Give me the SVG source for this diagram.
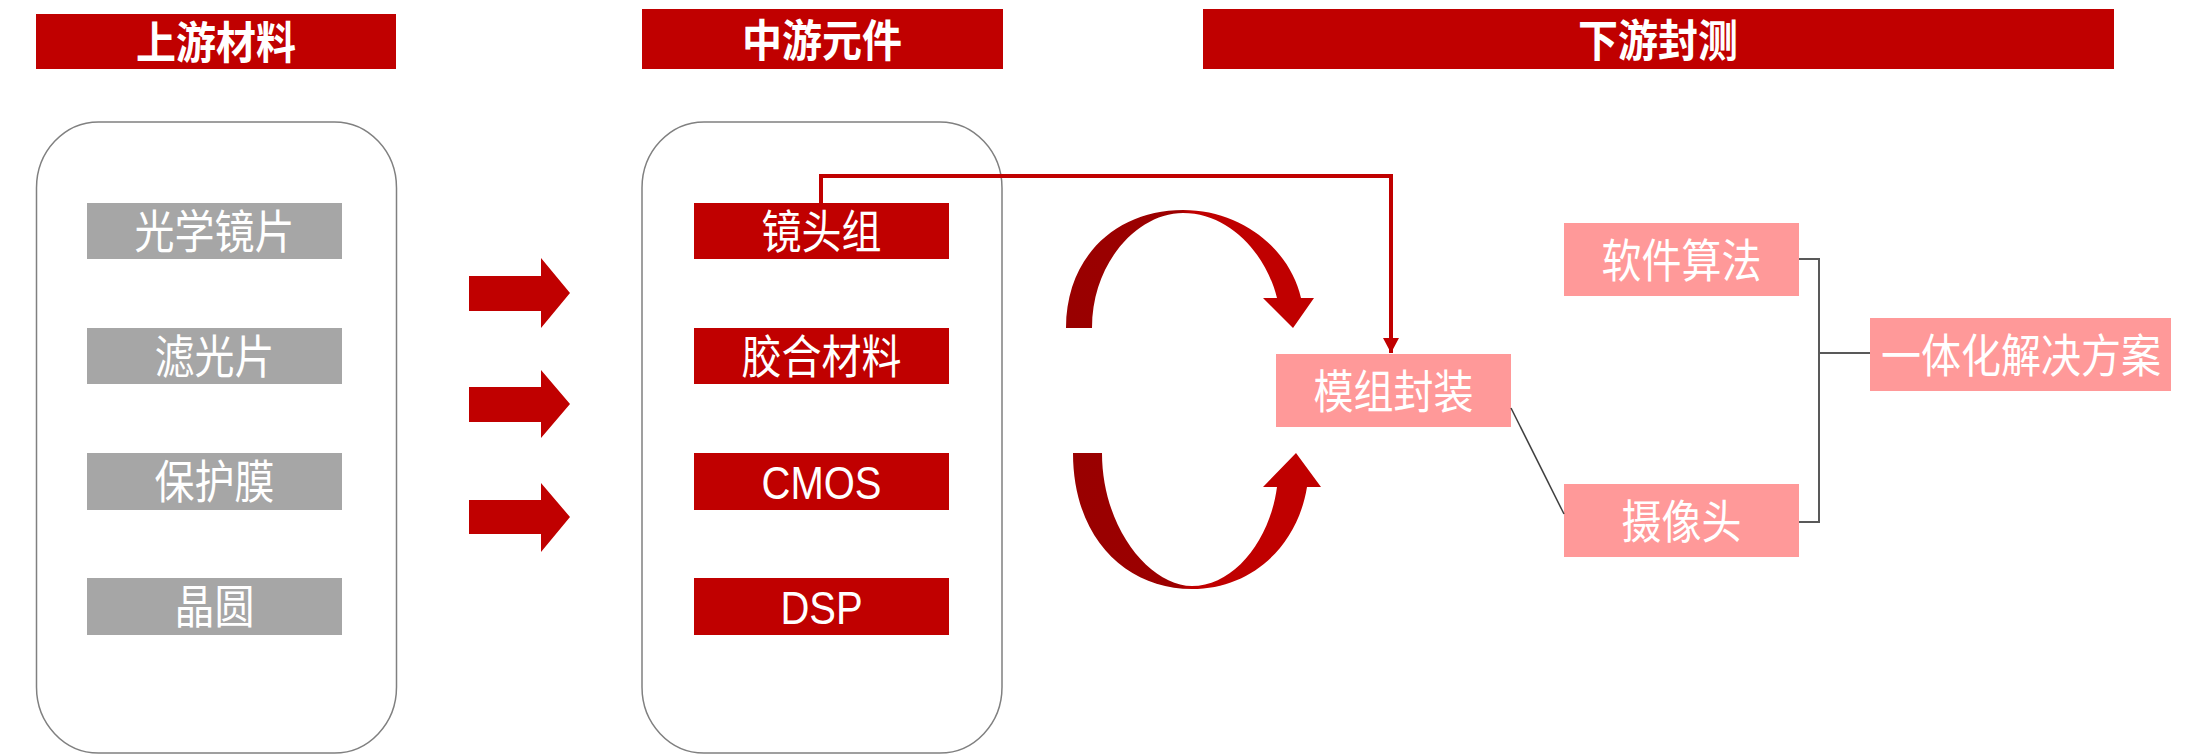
<svg xmlns="http://www.w3.org/2000/svg" width="2203" height="755" viewBox="0 0 2203 755">
<style>
.hdr{fill:#c00000}
.hdrt{font-family:"Noto Sans CJK SC",sans-serif;font-weight:bold;font-size:40px;fill:#fff;text-anchor:middle}
.col{fill:#fff;stroke:#808080;stroke-width:1.5}
.gray{fill:#a6a6a6}
.red{fill:#c00000}
.pink{fill:#ff9999}
.t{font-family:"Noto Sans CJK SC",sans-serif;font-size:40px;fill:#fff;text-anchor:middle}
.lt{font-family:"Liberation Sans","Noto Sans CJK SC",sans-serif;font-size:40px;fill:#fff;text-anchor:middle}
.blk{fill:#c00000}
.thin{fill:none;stroke:#404040;stroke-width:1.5}
.brk{fill:none;stroke:#595959;stroke-width:2}
</style>
<defs>
<marker id="ah" markerWidth="15" markerHeight="16" refX="15" refY="8" orient="auto" markerUnits="userSpaceOnUse" viewBox="0 0 15 16">
<path d="M0,0 L15,8 L0,16 Z" fill="#c00000"/>
</marker>
<linearGradient id="g1" gradientUnits="userSpaceOnUse" x1="1067" y1="0" x2="1320" y2="0">
<stop offset="0" stop-color="#990000"/>
<stop offset="0.44" stop-color="#9c0000"/>
<stop offset="0.49" stop-color="#c00000"/>
<stop offset="1" stop-color="#c00000"/>
</linearGradient>
</defs>

<g id="header-upstream">
<rect class="hdr" x="36" y="14" width="360" height="55"/>
<text class="hdrt" transform="translate(216,59) scale(1,1.12)">上游材料</text>
</g>
<g id="header-midstream">
<rect class="hdr" x="642" y="9" width="361" height="60"/>
<text class="hdrt" transform="translate(822,57) scale(1,1.12)">中游元件</text>
</g>
<g id="header-downstream">
<rect class="hdr" x="1203" y="9" width="911" height="60"/>
<text class="hdrt" transform="translate(1658,57) scale(1,1.12)">下游封测</text>
</g>

<g id="col-upstream">
<rect class="col" x="36.5" y="122" width="360" height="631" rx="62" ry="66"/>
</g>
<g id="col-midstream">
<rect class="col" x="642" y="122" width="360" height="631" rx="62" ry="66"/>
</g>

<g id="n-optical-lens">
<rect class="gray" x="87" y="203" width="255" height="56"/>
<text class="t" transform="translate(214.5,248) scale(1,1.15)">光学镜片</text>
</g>
<g id="n-filter">
<rect class="gray" x="87" y="328" width="255" height="56"/>
<text class="t" transform="translate(214.5,373) scale(1,1.15)">滤光片</text>
</g>
<g id="n-film">
<rect class="gray" x="87" y="453" width="255" height="57"/>
<text class="t" transform="translate(214.5,498) scale(1,1.15)">保护膜</text>
</g>
<g id="n-wafer">
<rect class="gray" x="87" y="578" width="255" height="57"/>
<text class="t" transform="translate(214.5,623) scale(1,1.15)">晶圆</text>
</g>

<g id="n-lens-group">
<rect class="red" x="694" y="203" width="255" height="56"/>
<text class="t" transform="translate(821.5,248) scale(1,1.15)">镜头组</text>
</g>
<g id="n-glue">
<rect class="red" x="694" y="328" width="255" height="56"/>
<text class="t" transform="translate(821.5,373) scale(1,1.15)">胶合材料</text>
</g>
<g id="n-cmos">
<rect class="red" x="694" y="453" width="255" height="57"/>
<text class="lt" transform="translate(821.5,499) scale(1,1.17)">CMOS</text>
</g>
<g id="n-dsp">
<rect class="red" x="694" y="578" width="255" height="57"/>
<text class="lt" transform="translate(821.5,624) scale(1,1.17)">DSP</text>
</g>

<g id="n-module">
<rect class="pink" x="1276" y="354" width="235" height="73"/>
<text class="t" transform="translate(1393.5,408) scale(1,1.15)">模组封装</text>
</g>
<g id="n-software">
<rect class="pink" x="1564" y="223" width="235" height="73"/>
<text class="t" transform="translate(1681.5,277) scale(1,1.15)">软件算法</text>
</g>
<g id="n-camera">
<rect class="pink" x="1564" y="484" width="235" height="73"/>
<text class="t" transform="translate(1681.5,538) scale(1,1.15)">摄像头</text>
</g>
<g id="n-solution">
<rect class="pink" x="1870" y="318" width="301" height="73"/>
<text class="t" transform="translate(2021,372) scale(1,1.15)">一体化解决方案</text>
</g>

<g id="connectors">
<path class="blk" d="M469,276 H541 V258 L570,293 L541,328 V311 H469 Z"/>
<path class="blk" d="M469,387 H541 V370 L570,404 L541,438 V422 H469 Z"/>
<path class="blk" d="M469,500 H541 V483 L570,517 L541,552 V534 H469 Z"/>
<path d="M821,203 V176 H1391 V353" fill="none" stroke="#c00000" stroke-width="4" marker-end="url(#ah)"/>
<path fill="url(#g1)" d="M1066,328 C1066,255 1118,210 1183,210 C1243,210 1290,250 1301,298 L1314,298 L1293,328 L1263,298 L1277,298 C1266,254 1230,213 1183,213 C1138,213 1092,262 1092,328 Z"/>
<path fill="url(#g1)" d="M1073,453 L1102,453 C1102,528 1150,586 1192,586 C1234,586 1270,540 1277,487 L1263,487 L1296,453 L1321,487 L1307,487 C1297,548 1250,589 1192,589 C1128,589 1073,540 1073,453 Z"/>
<line class="thin" x1="1511" y1="408" x2="1564" y2="514"/>
<polyline class="brk" points="1799,259 1819,259 1819,522 1799,522"/>
<line class="brk" x1="1819" y1="353" x2="1870" y2="353"/>
</g>
</svg>
